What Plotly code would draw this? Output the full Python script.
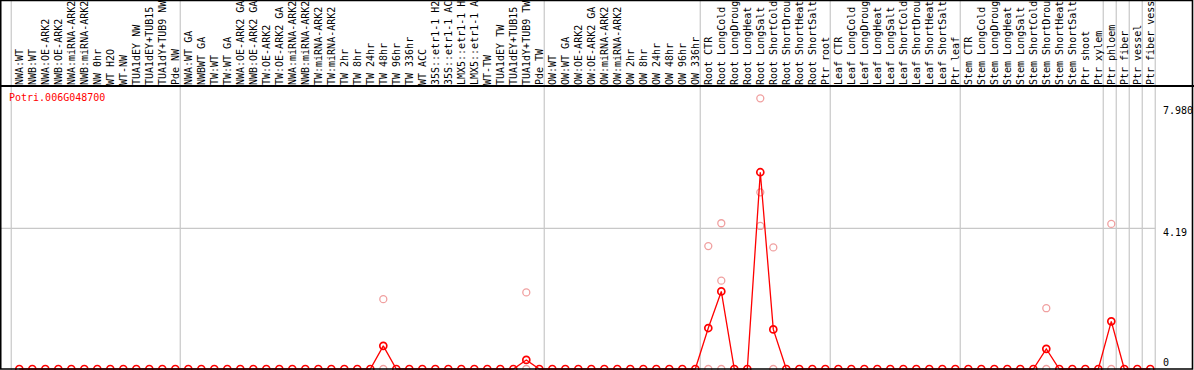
import plotly.graph_objects as go

gene_id = "Potri.006G048700"

samples = [
    "NWA:WT", "NWB:WT", "NWA:OE-ARK2", "NWB:OE-ARK2", "NWA:miRNA-ARK2", "NWB:miRNA-ARK2",
    "NW 0hr", "WT H2O", "WT-NW", "TUA1dEY NW", "TUA1dEY+TUB15 NW", "TUA1dY+TUB9 NW", "Pde NW",
    "NWA:WT GA", "NWBWT GA", "TW:WT", "TW:WT GA", "NWA:OE-ARK2 GA", "NWB:OE-ARK2 GA",
    "TW:OE-ARK2", "TW:OE-ARK2 GA", "NWA:miRNA-ARK2 GA", "NWB:miRNA-ARK2 GA",
    "TW:miRNA-ARK2", "TW:miRNA-ARK2 GA", "TW 2hr", "TW 8hr", "TW 24hr", "TW 48hr",
    "TW 96hr", "TW 336hr", "WT ACC", "35S::etr1-1 H2O", "35S::etr1-1 ACC",
    "LMX5::etr1-1 H2O", "LMX5::etr1-1 ACC", "WT-TW", "TUA1dEY TW", "TUA1dEY+TUB15 TW",
    "TUA1dY+TUB9 TW", "Pde TW",
    "OW:WT", "OW:WT GA", "OW:OE-ARK2", "OW:OE-ARK2 GA", "OW:miRNA-ARK2", "OW:miRNA-ARK2 GA",
    "OW 2hr", "OW 8hr", "OW 24hr", "OW 48hr", "OW 96hr", "OW 336hr",
    "Root CTR", "Root LongCold", "Root LongDrought", "Root LongHeat", "Root LongSalt",
    "Root ShortCold", "Root ShortDrought", "Root ShortHeat", "Root ShortSalt", "Ptr root",
    "Leaf CTR", "Leaf LongCold", "Leaf LongDrought", "Leaf LongHeat", "Leaf LongSalt",
    "Leaf ShortCold", "Leaf ShortDrought", "Leaf ShortHeat", "Leaf ShortSalt", "Ptr leaf",
    "Stem CTR", "Stem LongCold", "Stem LongDrought", "Stem LongHeat", "Stem LongSalt",
    "Stem ShortCold", "Stem ShortDrought", "Stem ShortHeat", "Stem ShortSalt", "Ptr shoot",
    "Ptr xylem", "Ptr phloem", "Ptr fiber", "Ptr vessel", "Ptr fiber vessel",
]

# mean expression per sample
expression = [
    0, 0, 0, 0, 0, 0, 0, 0, 0, 0, 0, 0, 0,
    0, 0, 0, 0, 0, 0, 0, 0, 0, 0, 0, 0, 0, 0, 0, 0.69, 0, 0, 0, 0, 0, 0, 0, 0, 0, 0, 0.27, 0,
    0, 0, 0, 0, 0, 0, 0, 0, 0, 0, 0, 0,
    1.22, 2.31, 0, 0, 5.86, 1.18, 0, 0, 0, 0,
    0, 0, 0, 0, 0, 0, 0, 0, 0, 0,
    0, 0, 0, 0, 0, 0, 0.60, 0, 0, 0,
    0, 1.42, 0, 0, 0,
]

# individual replicate values (sample index, value)
replicate_sample = [28, 28, 39, 39, 53, 53, 54, 54, 54, 57, 57, 57, 58, 58, 79, 79, 84, 84]
replicate_value = [2.08, 0, 2.28, 0, 3.66, 0, 4.34, 2.63, 0, 8.06, 5.26, 4.26, 3.62, 0, 1.81, 0, 4.32, 0]

# last sample index of each group (group separators)
group_ends = [-1, 12, 40, 52, 62, 72, 83, 84, 85, 86, 87]

tick_values = [0, 4.19, 7.98]
tick_labels = ["0", "4.19", "7.980"]
grid_values = [4.19]

W, H = 1194, 370
TOP = 86
x_idx = list(range(len(samples)))

fig = go.Figure()

fig.add_trace(go.Scatter(
    x=replicate_sample, y=replicate_value, mode="markers",
    marker=dict(symbol="circle-open", size=7, color="#f0a0a0", line=dict(width=1.3, color="#f0a0a0")),
    cliponaxis=False, hoverinfo="skip", showlegend=False,
))
fig.add_trace(go.Scatter(
    x=x_idx, y=expression, mode="lines+markers",
    line=dict(color="#ff0000", width=1.3),
    marker=dict(symbol="circle-open", size=7, color="#ff0000", line=dict(width=1.7, color="#ff0000")),
    cliponaxis=False, showlegend=False,
))

shapes = []
x_min = -19.3 / 13
x_max = (W - 19.3) / 13
top_paper = 1 + TOP / (H - TOP)
for g in group_ends:
    shapes.append(dict(type="line", xref="x", yref="paper", x0=g + 0.38, x1=g + 0.38,
                       y0=0, y1=top_paper, line=dict(color="#c8c8c8", width=1.2), layer="below"))
for gv in grid_values:
    shapes.append(dict(type="line", xref="x", yref="y", x0=x_min, x1=group_ends[-1] + 0.38,
                       y0=gv, y1=gv, line=dict(color="#c8c8c8", width=1.2), layer="below"))
# frame and header separator
shapes.append(dict(type="line", xref="paper", yref="paper", x0=0, x1=1, y0=1, y1=1,
                   line=dict(color="black", width=2)))
shapes.append(dict(type="rect", xref="paper", yref="paper", x0=0.0006, x1=1192.5 / W,
                   y0=1 / (H - TOP), y1=top_paper - 0.5 / (H - TOP),
                   line=dict(color="black", width=1.6)))

annotations = []
label_shift = [7, -4, -9]
for v, t, s in zip(tick_values, tick_labels, label_shift):
    annotations.append(dict(x=1161 / W, xref="paper", y=v, yref="y", text=t, showarrow=False,
                            xanchor="left", yanchor="middle", yshift=s,
                            font=dict(family="DejaVu Sans Mono", size=10, color="black")))
annotations.append(dict(x=7 / W, xref="paper", y=1 - 12 / (H - TOP), yref="paper", text=gene_id,
                        showarrow=False, xanchor="left", yanchor="middle",
                        font=dict(family="DejaVu Sans Mono", size=10, color="#ff0000")))

y_lo = -1 / 33.58
y_hi = y_lo + (H - TOP) / 33.58

fig.update_layout(
    width=W, height=H,
    margin=dict(l=0, r=0, t=TOP, b=0, pad=0),
    paper_bgcolor="white", plot_bgcolor="white",
    shapes=shapes, annotations=annotations,
    xaxis=dict(range=[x_min, x_max], side="top", tickmode="array", tickvals=x_idx,
               ticktext=samples, tickangle=-90, ticks="", showgrid=False, zeroline=False,
               showline=False, automargin=False,
               tickfont=dict(family="DejaVu Sans Mono", size=10, color="black")),
    yaxis=dict(range=[y_lo, y_hi], showticklabels=False, ticks="", showgrid=False,
               zeroline=False, showline=False, automargin=False),
)

fig.write_html("out.html", config={"displayModeBar": False},
               post_script="document.body.style.margin='0px';document.body.style.overflow='hidden';")
